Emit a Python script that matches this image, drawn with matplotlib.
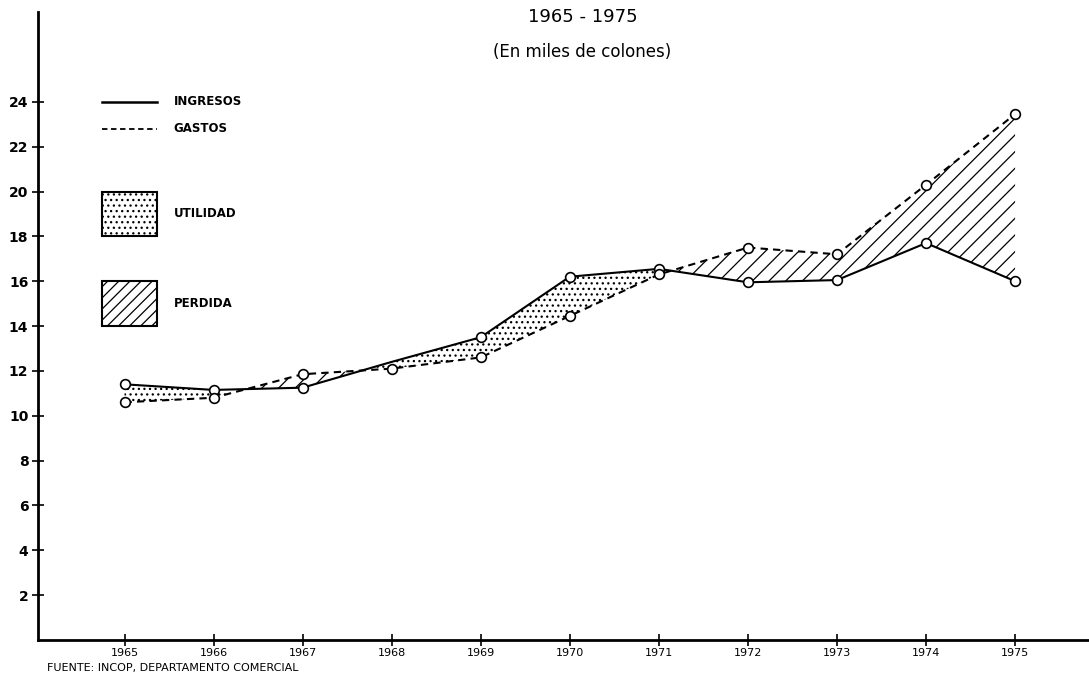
import matplotlib.pyplot as plt
from matplotlib.patches import Rectangle
import numpy as np

plt.rcParams['hatch.linewidth'] = 0.9

years = [1965, 1966, 1967, 1968, 1969, 1970, 1971, 1972, 1973, 1974, 1975]
ingresos = [11.4, 11.15, 11.25, 12.4, 13.5, 16.2, 16.55, 15.95, 16.05, 17.7, 16.0]
gastos = [10.6, 10.8, 11.85, 12.1, 12.6, 14.45, 16.3, 17.5, 17.2, 20.3, 23.45]
yticks = [2, 4, 6, 8, 10, 12, 14, 16, 18, 20, 22, 24]

x = np.array(years)
ing = np.array(ingresos)
gas = np.array(gastos)

fig = plt.figure(figsize=(10.89, 6.75), dpi=100)
ax = fig.add_axes([0.035, 0.052, 0.965, 0.930])

# areas between the two lines
ax.fill_between(x, ing, gas, where=ing >= gas, interpolate=True,
                facecolor='white', edgecolor='black', hatch='...', linewidth=0)
ax.fill_between(x, ing, gas, where=gas > ing, interpolate=True,
                facecolor='white', edgecolor='black', hatch='//', linewidth=0)

ax.plot(x, ing, color='black', lw=1.5, marker='o', ms=7, mfc='white', mec='black',
        mew=1.2, markevery=[0, 1, 2, 4, 5, 6, 7, 8, 9, 10], zorder=4)
ax.plot(x, gas, color='black', lw=1.5, ls=(0, (3.5, 2.5)), marker='o', ms=7,
        mfc='white', mec='black', mew=1.2, zorder=4)

ax.set_xlim(1964.03, 1975.83)
ax.set_ylim(0, 28)
ax.set_xticks(years)
ax.set_xticklabels([str(y) for y in years], fontsize=8)
ax.set_yticks(yticks)
ax.set_yticklabels([str(t) for t in yticks], fontsize=10, fontweight='bold')
ax.tick_params(axis='both', direction='inout', length=8, width=1.2)
ax.tick_params(axis='x', pad=2)
ax.tick_params(axis='y', pad=3)
for side in ['top', 'right']:
    ax.spines[side].set_visible(False)
for side in ['left', 'bottom']:
    ax.spines[side].set_linewidth(2)

# hand drawn key
kx0, kx1, tx = 1964.75, 1965.36, 1965.55
ax.plot([kx0, kx1], [24, 24], color='black', lw=1.8)
ax.plot([kx0, kx1], [22.8, 22.8], color='black', lw=1.3, ls=(0, (3, 2)))
ax.text(tx, 24, 'INGRESOS', fontsize=8.5, fontweight='bold', va='center')
ax.text(tx, 22.8, 'GASTOS', fontsize=8.5, fontweight='bold', va='center')
ax.add_patch(Rectangle((kx0, 18), kx1 - kx0, 2, facecolor='white', edgecolor='black',
                       hatch='...', lw=1.5))
ax.add_patch(Rectangle((kx0, 14), kx1 - kx0, 2, facecolor='white', edgecolor='black',
                       hatch='///', lw=1.5))
ax.text(tx, 19, 'UTILIDAD', fontsize=8.5, fontweight='bold', va='center')
ax.text(tx, 15, 'PERDIDA', fontsize=8.5, fontweight='bold', va='center')

fig.text(0.535, 0.975, '1965 - 1975', fontsize=13, ha='center', va='center')
fig.text(0.535, 0.923, '(En miles de colones)', fontsize=12, ha='center', va='center')
fig.text(0.043, 0.003, 'FUENTE: INCOP, DEPARTAMENTO COMERCIAL', fontsize=8, va='bottom')

fig.savefig('out.png', dpi=100)
